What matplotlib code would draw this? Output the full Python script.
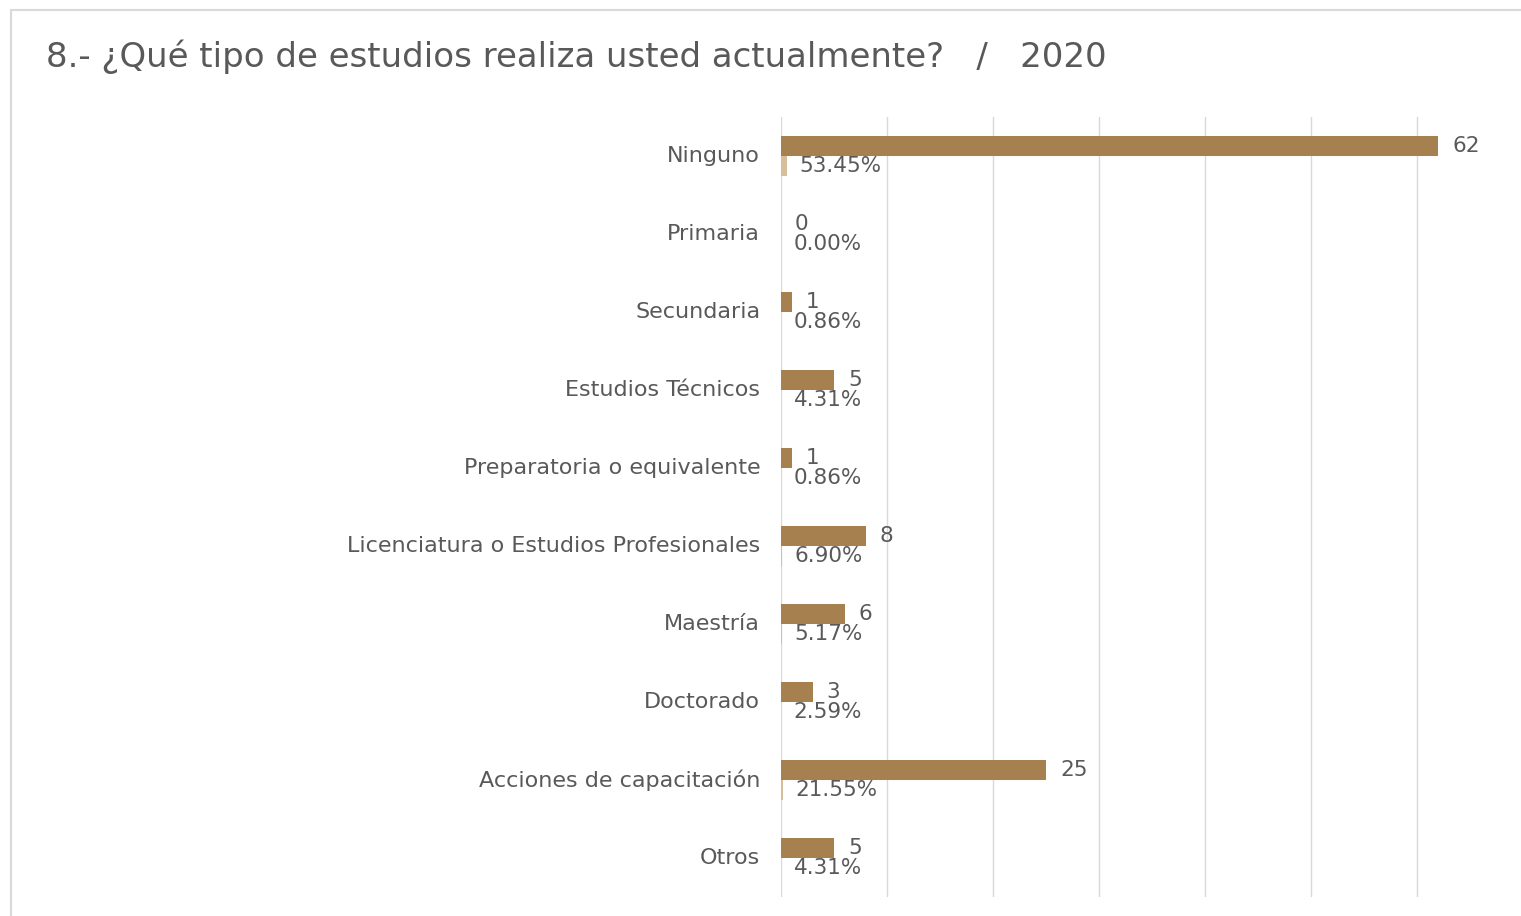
import numpy as np
import matplotlib.pyplot as plt
from matplotlib.patches import Rectangle

# datos de la grafica
categorias = ["Ninguno", "Primaria", "Secundaria", "Estudios Técnicos",
              "Preparatoria o equivalente", "Licenciatura o Estudios Profesionales",
              "Maestría", "Doctorado", "Acciones de capacitación", "Otros"]
conteos = [62, 0, 1, 5, 1, 8, 6, 3, 25, 5]
porcentajes = [53.45, 0.00, 0.86, 4.31, 0.86, 6.90, 5.17, 2.59, 21.55, 4.31]

titulo = "8.- ¿Qué tipo de estudios realiza usted actualmente?   /   2020"

color_conteo = "#A6804F"
color_pct = "#D8BF9C"
gris = "#595959"

plt.rcParams['font.family'] = ['DejaVu Sans']

W, H = 1521, 916
fig = plt.figure(figsize=(W / 100, H / 100), dpi=100)

# marco de la figura
fig.patches.append(Rectangle((11 / W, -0.05), 1.1, 1 - 10 / H + 0.05,
                             transform=fig.transFigure, fill=False,
                             edgecolor="#D9D9D9", linewidth=1.5))

fig.text(46 / W, 1 - 57 / H, titulo, fontsize=24.5, color=gris,
         va="center", ha="left")

ax = fig.add_axes([781 / W, 1 - 897 / H, 742 / W, 780 / H])

y = np.arange(len(categorias))
alto = 0.256
fracciones = [p / 100 for p in porcentajes]

ax.barh(y - alto / 2, conteos, height=alto, color=color_conteo, zorder=3)
ax.barh(y + alto / 2, fracciones, height=alto, color=color_pct, zorder=3)

for i in range(len(categorias)):
    ax.annotate(str(conteos[i]), (conteos[i], y[i] - alto / 2),
                xytext=(10, 0), textcoords="offset points",
                va="center", ha="left", fontsize=15.5, color=gris)
    ax.annotate(f"{porcentajes[i]:.2f}%", (fracciones[i], y[i] + alto / 2),
                xytext=(9, 0), textcoords="offset points",
                va="center", ha="left", fontsize=15.5, color=gris)
    # etiqueta de categoria
    ax.annotate(categorias[i], (0, y[i]), xytext=(-15, 0),
                textcoords="offset points", va="center", ha="right",
                fontsize=16, color=gris, annotation_clip=False)

ax.set_xlim(0, 70)
ax.set_ylim(len(categorias) - 0.5, -0.5)
ax.set_xticks(np.arange(0, 71, 10))
ax.set_xticklabels([])
ax.set_yticks([])
ax.tick_params(axis="both", length=0)
ax.grid(axis="x", color="#D9D9D9", linewidth=1, zorder=0)
for s in ax.spines.values():
    s.set_visible(False)

fig.savefig("out.png", dpi=100)
